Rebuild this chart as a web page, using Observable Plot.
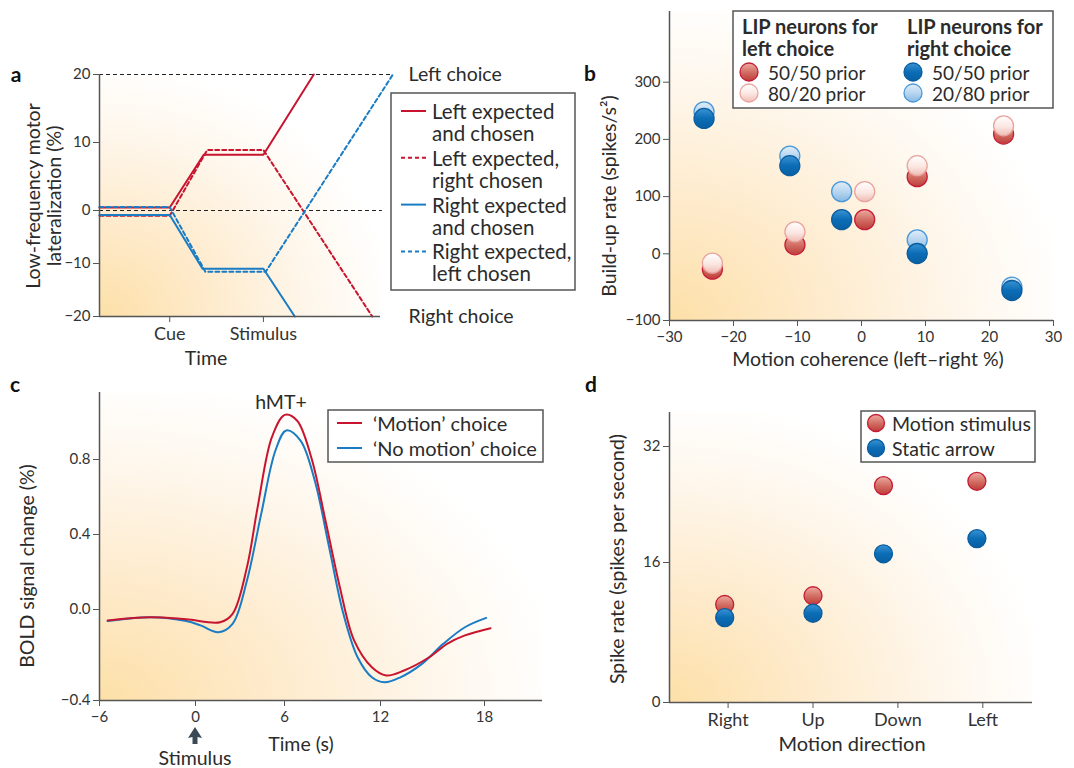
<!DOCTYPE html>
<html><head><meta charset="utf-8">
<script src="https://cdn.jsdelivr.net/npm/d3@7"></script>
<script src="https://cdn.jsdelivr.net/npm/@observablehq/plot@0.6"></script>
<style>
body{margin:0;background:#fff;font-family:Lato,sans-serif;}
#root{position:relative;width:1074px;height:768px;overflow:hidden;background:#fff}
</style></head><body>
<svg width="0" height="0" style="position:absolute">
<defs>
<radialGradient id="bg" cx="0" cy="1" r="1.05">
<stop offset="0" stop-color="#fde0a8"/>
<stop offset="0.35" stop-color="#feeaca"/>
<stop offset="0.7" stop-color="#fef6ea"/>
<stop offset="1" stop-color="#ffffff"/>
</radialGradient>
<linearGradient id="gDR" x1="0" y1="0" x2="0" y2="1">
<stop offset="0" stop-color="#eeaaa0"/><stop offset="0.55" stop-color="#d06a60"/><stop offset="1" stop-color="#bf3c3a"/>
</linearGradient>
<linearGradient id="gLR" x1="0" y1="0" x2="0" y2="1">
<stop offset="0" stop-color="#ffffff"/><stop offset="0.55" stop-color="#fbe6e1"/><stop offset="1" stop-color="#efbcb4"/>
</linearGradient>
<linearGradient id="gDB" x1="0" y1="0" x2="0" y2="1">
<stop offset="0" stop-color="#3a93d4"/><stop offset="0.5" stop-color="#0b6db6"/><stop offset="1" stop-color="#095fa3"/>
</linearGradient>
<linearGradient id="gLB" x1="0" y1="0" x2="0" y2="1">
<stop offset="0" stop-color="#e2eef9"/><stop offset="0.55" stop-color="#b3d3ef"/><stop offset="1" stop-color="#86b8e3"/>
</linearGradient>
</defs></svg>
<div id="root"></div>
<script>
const W = 1074, H = 768;
const RED = "#c8142f", BLUE = "#1a7cc4", AX = "#555", TXT = "#2b2b2b";

// ---------- Panel a data ----------
const aTimeTicks = [3, 7];
const aTimeLabels = ["Cue", "Stimulus"];
const aYTicks = [-20, -10, 0, 10, 20];
const aRefLevels = [20, 0];
const aRefEnds = [12.53, 12.08];
const aChoiceLabels = ["Left choice", "Right choice"];
const aChoiceLevels = [20, -20];
const aSeriesNames = ["Left expected and chosen", "Left expected, right chosen", "Right expected and chosen", "Right expected, left chosen"];
const aLeftChosenT = [0, 3, 4.45, 7, 9.15];
const aLeftChosenV = [0.45, 0.45, 8.2, 8.2, 20];
const aLeftExpRightT = [0, 3, 4.6, 7, 11.65];
const aLeftExpRightV = [-1.0, -1.0, 8.9, 8.9, -20];
const aRightChosenT = [0, 3, 4.4, 7, 8.34];
const aRightChosenV = [-0.85, -0.85, -11.0, -11.0, -20];
const aRightExpLeftT = [0, 3, 4.52, 7.1, 12.53];
const aRightExpLeftV = [0.5, 0.5, -11.55, -11.55, 20];

// ---------- Panel b data ----------
const bXTicks = [-30, -20, -10, 0, 10, 20, 30];
const bYTicks = [-100, 0, 100, 200, 300];
const bCohRight = [-24.6, -11.2, -3.1, 8.7, 23.5];
const bRight5050 = [236.6, 154, 59.8, 0.5, -55];
const bRight2080 = [248.2, 170.9, 108.7, 24.4, -50];
const bCohLeft = [-23.3, -10.4, 0.5, 8.7, 22.2];
const bLeft5050 = [-23, 15.7, 59.8, 134.8, 209.3];
const bLeft8020 = [-14, 38.4, 108.7, 154, 223.8];

// ---------- Panel c data ----------
const cXTicks = [-6, 0, 6, 12, 18];
const cYTicks = [-0.4, 0, 0.4, 0.8];
const cMotionT = [-5.49, -2.81, -0.58, 1.66, 2.5, 3.47, 4.19, 5.15, 6.02, 6.78, 7.67, 8.56, 9.46, 10.35, 11.46, 12.33, 13.36, 14.81, 15.84, 16.87, 18.35];
const cMotionV = [-0.048, -0.034, -0.043, -0.056, -0.019, 0.226, 0.546, 0.919, 1.038, 1.008, 0.812, 0.475, 0.119, -0.136, -0.254, -0.29, -0.268, -0.21, -0.151, -0.114, -0.082];
const cNoMotionT = [-5.49, -2.81, -0.58, 0.34, 1.54, 2.5, 3.47, 4.43, 5.39, 6.11, 7.0, 7.89, 8.79, 9.68, 10.57, 11.46, 12.23, 13.15, 14.39, 15.62, 16.87, 18.1];
const cNoMotionV = [-0.051, -0.034, -0.051, -0.07, -0.1, -0.063, 0.155, 0.51, 0.848, 0.955, 0.901, 0.688, 0.332, -0.019, -0.21, -0.298, -0.32, -0.298, -0.239, -0.151, -0.078, -0.037];

// ---------- Panel d data ----------
const dDirections = ["Right", "Up", "Down", "Left"];
const dTickPos = [1, 2, 3, 4];
const dPointPos = [0.96, 2.0, 2.83, 3.93];
const dMotion = [11.2, 12.2, 26.6, 27.2];
const dStatic = [9.7, 10.2, 17.2, 19.3];
const dYTicks = [0, 16, 32];

// Axis segment proportions as drawn in the figure (the original axes are not evenly spaced)
function warp(stops, fractions) { return d3.scaleLinear(stops, fractions); }
const minus = (d, digits) => {
  const s = digits != null ? Math.abs(d).toFixed(digits) : String(Math.abs(d));
  return d < 0 ? "\u2212" + s : s;
};
const baseStyle = {background: "transparent", fontFamily: "Lato, sans-serif", fontSize: "15px", color: "#333", overflow: "visible"};
const root = document.getElementById("root");
function place(svg) {
  svg.style.position = "absolute"; svg.style.left = "0px"; svg.style.top = "0px"; svg.style.maxWidth = "none";
  root.appendChild(svg);
}
const rows = (xs, ys, fx = v => v, fy = v => v) => xs.map((x, i) => ({x: fx(x), y: fy(ys[i])}));
const warpTicks = (ticks, w, fmt) => ({values: ticks.map(w), format: v => fmt(ticks[ticks.map(w).findIndex(t => Math.abs(t - v) < 1e-9)])});

// ---------- Panel a ----------
{
  const L = 99, R = 380, T = 74, B = 316;
  const wy = warp([-20, 0, 20], [0, (B - 210) / (B - T), 1]);
  const styles = [
    {t: aLeftChosenT, v: aLeftChosenV, stroke: RED, dash: null},
    {t: aLeftExpRightT, v: aLeftExpRightV, stroke: RED, dash: "4,3"},
    {t: aRightChosenT, v: aRightChosenV, stroke: BLUE, dash: null},
    {t: aRightExpLeftT, v: aRightExpLeftV, stroke: BLUE, dash: "4,3"}
  ];
  const refRows = aRefLevels.map((v, i) => ({v: wy(v), end: aRefEnds[i]}));
  const choiceRows = aChoiceLabels.map((label, i) => ({label, v: wy(aChoiceLevels[i]), t: 13.2}));
  const yt = warpTicks(aYTicks, wy, d => minus(d));
  place(Plot.plot({
    width: W, height: H, marginLeft: L, marginRight: W - R, marginTop: T, marginBottom: H - B,
    style: baseStyle,
    x: {domain: [0, 12], range: [L, R]},
    y: {domain: [0, 1], range: [B, T]},
    marks: [
      Plot.frame({fill: "url(#bg)", stroke: "none"}),
      Plot.ruleY(refRows, {y: "v", x1: 0, x2: "end", stroke: "#222", strokeWidth: 1, strokeDasharray: "4,3"}),
      ...styles.map(s => Plot.line(rows(s.t, s.v, v => v, wy), {x: "x", y: "y", stroke: s.stroke, strokeWidth: 2, strokeDasharray: s.dash || undefined})),
      Plot.ruleX([0], {y1: 0, y2: 1, stroke: AX, strokeWidth: 1.5}),
      Plot.ruleY([0], {x1: 0, x2: 12, stroke: AX, strokeWidth: 1.5}),
      Plot.axisY(yt.values, {anchor: "left", tickSize: 6, tickPadding: 3, tickFormat: yt.format, stroke: AX, label: null, fontSize: 15}),
      Plot.axisX(aTimeTicks, {anchor: "bottom", tickSize: 6, tickPadding: 5, tickFormat: d => aTimeLabels[aTimeTicks.indexOf(d)], stroke: AX, label: null, fontSize: 18}),
      Plot.text(choiceRows, {x: "t", y: "v", text: "label", textAnchor: "start", fontSize: 19.5, fill: TXT})
    ]
  }));
}

// ---------- Panel b ----------
{
  const L = 669, R = 1053, T = 11, B = 320;
  const wy = warp([-100, 0, 300, 423], [0, (B - 253.3) / (B - T), (B - 81.7) / (B - T), 1]);
  const sets = [
    {x: bCohRight, y: bRight2080, fill: "url(#gLB)", stroke: "#4a98d8"},
    {x: bCohRight, y: bRight5050, fill: "url(#gDB)", stroke: "#0a5d9e"},
    {x: bCohLeft, y: bLeft5050, fill: "url(#gDR)", stroke: "#c41d36"},
    {x: bCohLeft, y: bLeft8020, fill: "url(#gLR)", stroke: "#e8a59e"}
  ];
  const yt = warpTicks(bYTicks, wy, d => minus(d));
  place(Plot.plot({
    width: W, height: H, marginLeft: L, marginRight: W - R, marginTop: T, marginBottom: H - B,
    style: baseStyle,
    x: {domain: [-30, 30], range: [L, R]},
    y: {domain: [0, 1], range: [B, T]},
    marks: [
      Plot.frame({fill: "url(#bg)", stroke: "none"}),
      ...sets.map(s => Plot.dot(rows(s.x, s.y, v => v, wy), {x: "x", y: "y", r: 10, fill: s.fill, stroke: s.stroke, strokeWidth: 1.3})),
      Plot.ruleX([-30], {y1: 0, y2: 1, stroke: AX, strokeWidth: 1.5}),
      Plot.ruleY([0], {x1: -30, x2: 30, stroke: AX, strokeWidth: 1.5}),
      Plot.axisY(yt.values, {anchor: "left", tickSize: 6, tickPadding: 3, tickFormat: yt.format, stroke: AX, label: null, fontSize: 15}),
      Plot.axisX(bXTicks, {anchor: "bottom", tickSize: 6, tickPadding: 5, tickFormat: d => minus(d), stroke: AX, label: null, fontSize: 15})
    ]
  }));
}

// ---------- Panel c ----------
{
  const L = 99, R = 542, T = 392, B = 700;
  const wx = warp([-6, 0, 6, 12, 18, 21.35], [L, 195, 284, 380, 484, R].map(p => (p - L) / (R - L)));
  const wy = warp([-0.4, 0, 0.8, 1.157], [0, (B - 609) / (B - T), (B - 459) / (B - T), 1]);
  const xt = warpTicks(cXTicks, wx, d => minus(d));
  const yt = warpTicks(cYTicks, wy, d => minus(d, 1));
  place(Plot.plot({
    width: W, height: H, marginLeft: L, marginRight: W - R, marginTop: T, marginBottom: H - B,
    style: baseStyle,
    x: {domain: [0, 1], range: [L, R]},
    y: {domain: [0, 1], range: [B, T]},
    marks: [
      Plot.frame({fill: "url(#bg)", stroke: "none"}),
      Plot.line(rows(cNoMotionT, cNoMotionV, wx, wy), {x: "x", y: "y", stroke: BLUE, strokeWidth: 2, curve: "catmull-rom"}),
      Plot.line(rows(cMotionT, cMotionV, wx, wy), {x: "x", y: "y", stroke: RED, strokeWidth: 2, curve: "catmull-rom"}),
      Plot.ruleX([0], {y1: 0, y2: 1, stroke: AX, strokeWidth: 1.5}),
      Plot.ruleY([0], {x1: 0, x2: 1, stroke: AX, strokeWidth: 1.5}),
      Plot.axisY(yt.values, {anchor: "left", tickSize: 6, tickPadding: 3, tickFormat: yt.format, stroke: AX, label: null, fontSize: 15}),
      Plot.axisX(xt.values, {anchor: "bottom", tickSize: 6, tickPadding: 5, tickFormat: xt.format, stroke: AX, label: null, fontSize: 15})
    ]
  }));
}

// ---------- Panel d ----------
{
  const L = 669, R = 1032, T = 412, B = 702;
  const wy = warp([0, 16, 32, 36.6], [0, (B - 562) / (B - T), (B - 446) / (B - T), 1]);
  const yt = warpTicks(dYTicks, wy, d => String(d));
  place(Plot.plot({
    width: W, height: H, marginLeft: L, marginRight: W - R, marginTop: T, marginBottom: H - B,
    style: baseStyle,
    x: {domain: [0.31, 4.585], range: [L, R]},
    y: {domain: [0, 1], range: [B, T]},
    marks: [
      Plot.frame({fill: "url(#bg)", stroke: "none"}),
      Plot.dot(rows(dPointPos, dMotion, v => v, wy), {x: "x", y: "y", r: 9, fill: "url(#gDR)", stroke: "#c41d36", strokeWidth: 1.3}),
      Plot.dot(rows(dPointPos, dStatic, v => v, wy), {x: "x", y: "y", r: 9, fill: "url(#gDB)", stroke: "#0a5d9e", strokeWidth: 1.3}),
      Plot.ruleX([0.31], {y1: 0, y2: 1, stroke: AX, strokeWidth: 1.5}),
      Plot.ruleY([0], {x1: 0.31, x2: 4.585, stroke: AX, strokeWidth: 1.5}),
      Plot.axisY(yt.values, {anchor: "left", tickSize: 6, tickPadding: 3, tickFormat: yt.format, stroke: AX, label: null, fontSize: 15}),
      Plot.axisX(dTickPos, {anchor: "bottom", tickSize: 6, tickPadding: 5, tickFormat: d => dDirections[dTickPos.indexOf(d)], stroke: AX, label: null, fontSize: 18})
    ]
  }));
}

// ---------- Overlay: labels, legends, annotations ----------
const ov = d3.select(root).append("svg")
  .attr("width", W).attr("height", H)
  .style("position", "absolute").style("left", "0px").style("top", "0px")
  .style("font-family", "Lato, sans-serif").style("overflow", "visible");

function txt(s, x, y, o = {}) {
  const t = ov.append("text").attr("x", x).attr("y", y)
    .attr("dominant-baseline", "central")
    .attr("text-anchor", o.anchor || "middle")
    .attr("font-size", o.size || 19.5)
    .attr("font-weight", o.bold ? "bold" : null)
    .attr("fill", o.fill || TXT)
    .text(s);
  if (o.rot) t.attr("transform", `rotate(-90 ${x} ${y})`);
  return t;
}
// panel letters
txt("a", 16, 73, {bold: true, size: 21, fill: "#111"});
txt("b", 590, 72, {bold: true, size: 21, fill: "#111"});
txt("c", 15, 383, {bold: true, size: 21, fill: "#111"});
txt("d", 591, 383, {bold: true, size: 21, fill: "#111"});
// axis titles
txt("Low-frequency motor", 32, 196, {rot: true});
txt("lateralization (%)", 53, 196, {rot: true});
txt("Time", 206, 357);
txt("Build-up rate (spikes/s\u00b2)", 608, 196, {rot: true});
txt("Motion coherence (left\u2013right %)", 868, 358);
txt("BOLD signal change (%)", 26, 566, {rot: true});
txt("Time (s)", 301, 743);
txt("Spike rate (spikes per second)", 616, 559, {rot: true});
txt("Motion direction", 852, 743, {size: 20});
txt("hMT+", 281, 401);
// stimulus arrow
ov.append("path").attr("d", "M195,727 L202,738 L197.5,737 L197.5,744 L192.5,744 L192.5,737 L188,738 Z").attr("fill", "#394a56");
txt("Stimulus", 195, 757);

function box(x, y, w, h) {
  ov.append("rect").attr("x", x).attr("y", y).attr("width", w).attr("height", h)
    .attr("fill", "#fff").attr("stroke", "#555").attr("stroke-width", 1.5);
}
// legend a
box(391, 93, 184, 197);
const aLegend = [
  ["Left expected", "and chosen", RED, null],
  ["Left expected,", "right chosen", RED, "4,3"],
  ["Right expected", "and chosen", BLUE, null],
  ["Right expected,", "left chosen", BLUE, "4,3"]
];
aLegend.forEach((e, i) => {
  const y = 111 + 46.8 * i;
  ov.append("line").attr("x1", 401).attr("x2", 426).attr("y1", y).attr("y2", y)
    .attr("stroke", e[2]).attr("stroke-width", 2).attr("stroke-dasharray", e[3]);
  txt(e[0], 432, y, {anchor: "start", size: 20.5});
  txt(e[1], 432, y + 22, {anchor: "start", size: 20.5});
});
// legend b
box(733, 11, 320, 97);
txt("LIP neurons for", 742, 26, {anchor: "start", bold: true, size: 20});
txt("left choice", 742, 48, {anchor: "start", bold: true, size: 20});
txt("LIP neurons for", 907, 26, {anchor: "start", bold: true, size: 20});
txt("right choice", 907, 48, {anchor: "start", bold: true, size: 20});
const bLegend = [
  [749, 72, "url(#gDR)", "#c41d36", "50/50 prior"],
  [749, 93, "url(#gLR)", "#e8a59e", "80/20 prior"],
  [913, 72, "url(#gDB)", "#0a5d9e", "50/50 prior"],
  [913, 93, "url(#gLB)", "#4a98d8", "20/80 prior"]
];
bLegend.forEach(e => {
  ov.append("circle").attr("cx", e[0]).attr("cy", e[1]).attr("r", 9).attr("fill", e[2]).attr("stroke", e[3]).attr("stroke-width", 1.3);
  txt(e[4], e[0] + 19, e[1], {anchor: "start", size: 19});
});
// legend c
box(328, 410, 215, 52);
[["\u2018Motion\u2019 choice", RED, 423], ["\u2018No motion\u2019 choice", BLUE, 448]].forEach(e => {
  ov.append("line").attr("x1", 337).attr("x2", 362).attr("y1", e[2]).attr("y2", e[2]).attr("stroke", e[1]).attr("stroke-width", 2);
  txt(e[0], 373, e[2], {anchor: "start", size: 20});
});
// legend d
box(861, 411, 174, 51);
[["Motion stimulus", "url(#gDR)", "#c41d36", 423], ["Static arrow", "url(#gDB)", "#0a5d9e", 448]].forEach(e => {
  ov.append("circle").attr("cx", 876).attr("cy", e[3]).attr("r", 8.5).attr("fill", e[1]).attr("stroke", e[2]).attr("stroke-width", 1.3);
  txt(e[0], 892, e[3], {anchor: "start", size: 19.5});
});
</script>
</body></html>
